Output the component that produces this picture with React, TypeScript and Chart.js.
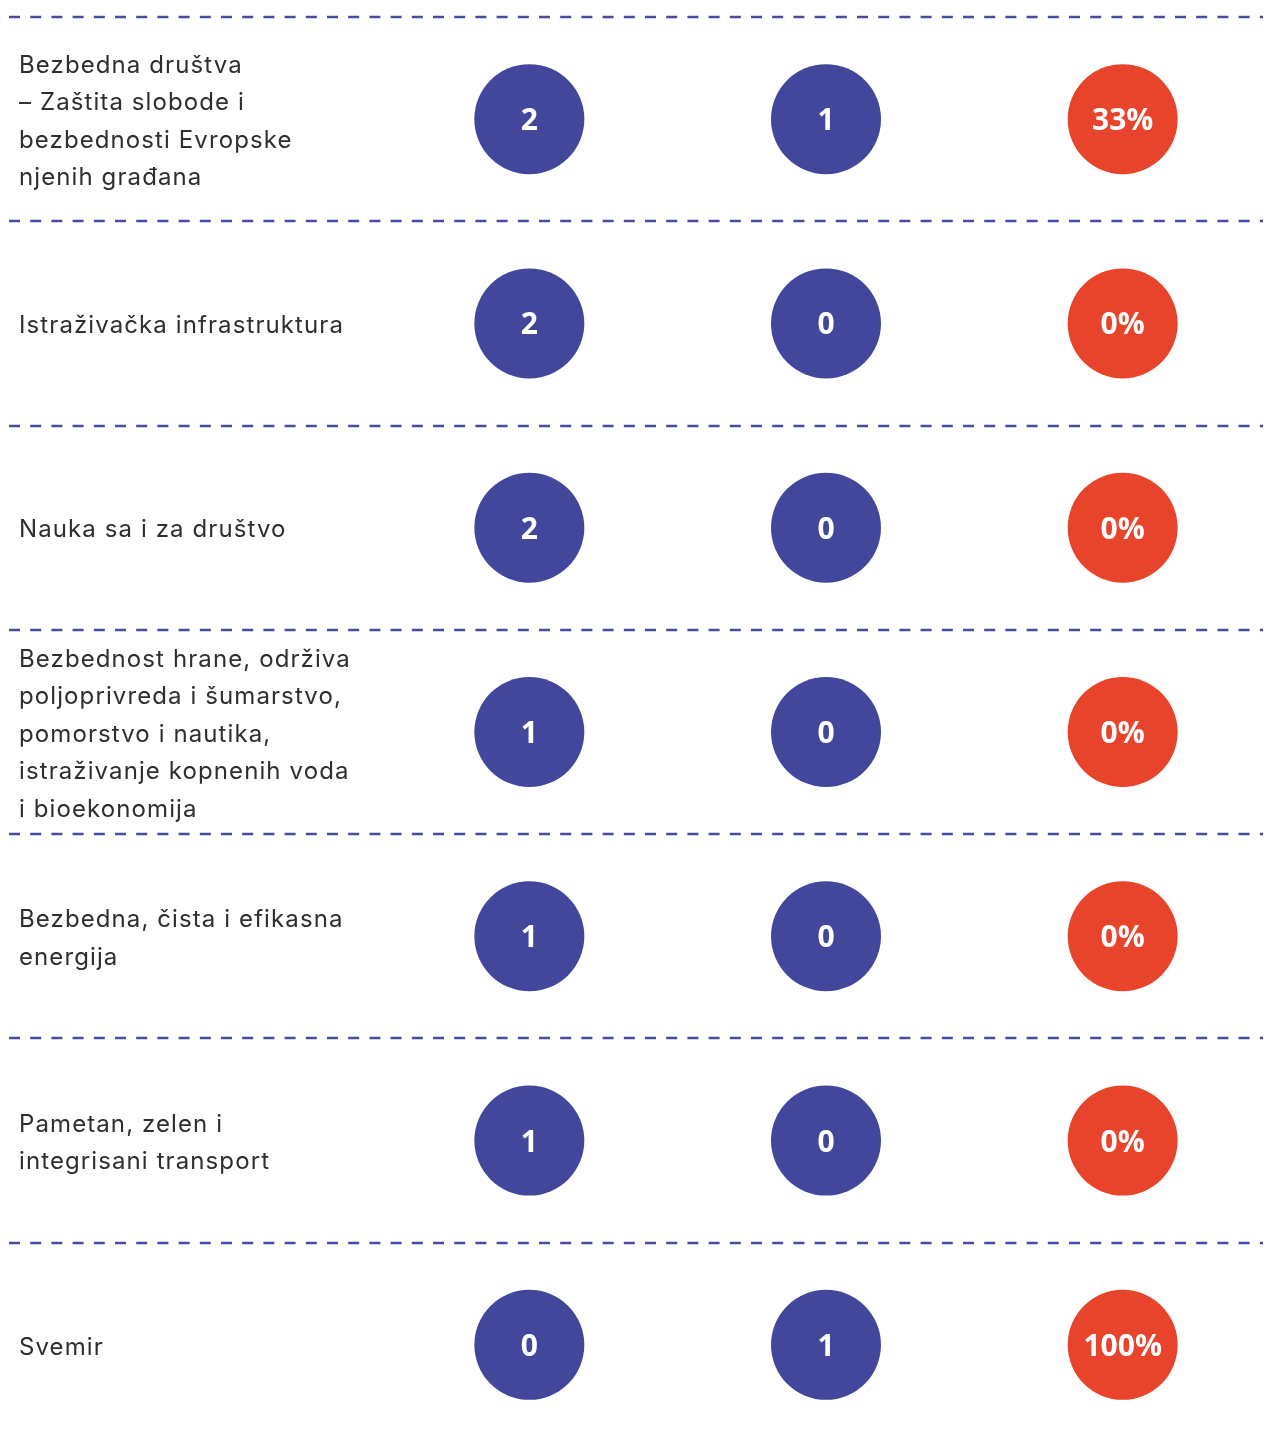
import React, { useEffect, useRef } from 'react';
import { Chart, registerables } from 'chart.js';

Chart.register(...registerables);

// ---- data ----
const rowLabels: string[][] = [
  ['Bezbedna društva', '– Zaštita slobode i', 'bezbednosti Evropske', 'njenih građana'],
  ['Istraživačka infrastruktura'],
  ['Nauka sa i za društvo'],
  ['Bezbednost hrane, održiva', 'poljoprivreda i šumarstvo,', 'pomorstvo i nautika,', 'istraživanje kopnenih voda', 'i bioekonomija'],
  ['Bezbedna, čista i efikasna', 'energija'],
  ['Pametan, zelen i', 'integrisani transport'],
  ['Svemir'],
];
const columns = ['Podneti projekti', 'Odobreni projekti', 'Stopa uspeha'];
const submitted = [2, 2, 2, 1, 1, 1, 0];
const approved = [1, 0, 0, 0, 0, 0, 1];
const successRate = [33, 0, 0, 0, 0, 0, 100];

// ---- styles ----
const BLUE = '#43479c';
const RED = '#e8432b';
const LINE = '#474c9f';
const TEXT = '#2e2e2e';
const LABEL_FONT = '400 24px Inter';
const LABEL_SPACING = '1.1px';
const LABEL_LINE_H = 37.4;
const LABEL_X = 19;
const LABEL_DY = 2.5;

const dashedRows = {
  id: 'dashedRows',
  beforeDatasetsDraw(chart: any) {
    const y = chart.scales.y;
    const ctx = chart.ctx;
    const rowH = y.getPixelForValue(1) - y.getPixelForValue(0);
    ctx.save();
    ctx.strokeStyle = LINE;
    ctx.lineWidth = 2.6;
    ctx.setLineDash([11, 10.2]);
    ctx.lineDashOffset = 19.2;
    for (let i = 0; i < rowLabels.length; i++) {
      const py = Math.round(y.getPixelForValue(i) - rowH / 2);
      ctx.beginPath();
      ctx.moveTo(7, py);
      ctx.lineTo(chart.chartArea.right - 8, py);
      ctx.stroke();
    }
    ctx.restore();
  },
};

const rowText = {
  id: 'rowText',
  afterDatasetsDraw(chart: any) {
    const y = chart.scales.y;
    const ctx = chart.ctx;
    ctx.save();
    ctx.fillStyle = TEXT;
    ctx.font = LABEL_FONT;
    (ctx as any).letterSpacing = LABEL_SPACING;
    ctx.textAlign = 'left';
    ctx.textBaseline = 'middle';
    rowLabels.forEach((lines, i) => {
      const cy = y.getPixelForValue(i) + LABEL_DY;
      const start = cy - ((lines.length - 1) * LABEL_LINE_H) / 2;
      lines.forEach((line, j) => {
        ctx.fillText(line, LABEL_X, start + j * LABEL_LINE_H);
      });
    });
    ctx.restore();
  },
};

const valueLabels = {
  id: 'valueLabels',
  afterDatasetsDraw(chart: any) {
    const ctx = chart.ctx;
    ctx.save();
    ctx.fillStyle = '#ffffff';
    ctx.font = '700 30px "Open Sans"';
    ctx.textAlign = 'center';
    ctx.textBaseline = 'alphabetic';
    chart.data.datasets.forEach((ds: any, di: number) => {
      const meta = chart.getDatasetMeta(di);
      meta.data.forEach((pt: any, i: number) => {
        const text = `${ds.values[i]}${ds.suffix}`;
        const m = ctx.measureText(text);
        const dy = (m.actualBoundingBoxAscent - m.actualBoundingBoxDescent) / 2;
        ctx.fillText(text, pt.x, pt.y + dy);
      });
    });
    ctx.restore();
  },
};

function makeDataset(values: number[], col: number, color: string, suffix: string) {
  return {
    label: columns[col],
    values,
    suffix,
    data: values.map((_, i) => ({ x: columns[col], y: i })),
    pointRadius: 55,
    pointHoverRadius: 55,
    pointStyle: 'circle',
    backgroundColor: color,
    borderWidth: 0,
  } as any;
}

export default function App() {
  const ref = useRef<HTMLCanvasElement | null>(null);

  useEffect(() => {
    if (!ref.current) return;
    const chart = new Chart(ref.current, {
      type: 'scatter',
      data: {
        datasets: [
          makeDataset(submitted, 0, BLUE, ''),
          makeDataset(approved, 1, BLUE, ''),
          makeDataset(successRate, 2, RED, '%'),
        ],
      },
      options: {
        animation: false,
        responsive: false,
        events: [],
        layout: { autoPadding: false, padding: { left: 381, top: 17, right: 0, bottom: 0 } },
        plugins: { legend: { display: false }, tooltip: { enabled: false } },
        scales: {
          x: {
            type: 'category',
            labels: columns,
            offset: true,
            display: false,
          },
          y: {
            type: 'category',
            labels: rowLabels.map((l) => l.join(' ')),
            offset: true,
            display: false,
          },
        },
      } as any,
      plugins: [dashedRows, rowText, valueLabels],
    });
    return () => chart.destroy();
  }, []);

  return (
    <div style={{ position: 'fixed', left: 0, top: 0, width: '100vw', height: '100vh', overflow: 'hidden', background: '#fff' }}>
      <canvas ref={ref} width={1271} height={1447} style={{ display: 'block' }} />
    </div>
  );
}
